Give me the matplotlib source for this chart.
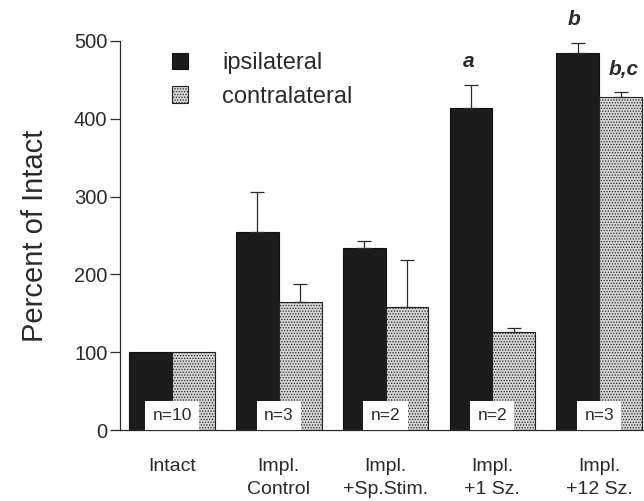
import matplotlib.pyplot as plt
import numpy as np

# values
groups = ['Intact', 'Impl.\nControl', 'Impl.\n+Sp.Stim.', 'Impl.\n+1 Sz.', 'Impl.\n+12 Sz.']
ipsi = [100, 255, 234, 414, 485]
ipsi_err = [0, 51, 9, 29, 13]
contra = [100, 165, 158, 126, 428]
contra_err = [0, 23, 61, 5, 7]
n_labels = ['n=10', 'n=3', 'n=2', 'n=2', 'n=3']

plt.rcParams['font.family'] = ['Liberation Sans', 'DejaVu Sans']
plt.rcParams['hatch.color'] = '#707070'
plt.rcParams['hatch.linewidth'] = 0.6
ink = '#2b2b2b'

fig = plt.figure(figsize=(6.44, 5.01), dpi=100)
ax = fig.add_axes([120 / 644, 1 - 430 / 501, 1 - 120 / 644, (430 - 41) / 501])

x = np.arange(len(groups))
w = 0.4
ax.bar(x - w / 2, ipsi, w, color='#1c1c1c', edgecolor='#111111', linewidth=0.8,
       label='ipsilateral', zorder=2)
ax.bar(x + w / 2, contra, w, color='#d6d6d6', edgecolor='#222222', linewidth=0.8,
       hatch='......', label='contralateral', zorder=2)

# upward-only error bars, none where the error is zero
for off, vals, errs in [(-w / 2, ipsi, ipsi_err), (w / 2, contra, contra_err)]:
    keep = [i for i, e in enumerate(errs) if e > 0]
    ax.errorbar(x[keep] + off, np.array(vals)[keep],
                yerr=[np.zeros(len(keep)), np.array(errs)[keep]], fmt='none',
                ecolor=ink, elinewidth=0.9, capsize=5, capthick=0.9, zorder=3)

# n boxes at the base of each pair
for xi, lab in zip(x, n_labels):
    ax.text(xi, 18.5, lab, ha='center', va='center', fontsize=12.5, color=ink, zorder=4,
            bbox=dict(boxstyle='square,pad=0.42', facecolor='white', edgecolor='none'))

# significance letters
sig = dict(fontsize=15, fontweight='bold', fontstyle='italic', color=ink, ha='center',
           va='center', clip_on=False)
ax.text(x[3] - w / 2 - 0.02, 474, 'a', **sig)
ax.text(x[4] - w / 2 - 0.04, 527, 'b', **sig)
ax.text(x[4] + w / 2 + 0.03, 463, 'b,c', **sig)

ax.set_xlim(-0.487, 4.42)
ax.set_ylim(0, 500)
ax.set_yticks(range(0, 501, 100))
ax.set_xticks(x)
ax.set_xticklabels(groups, fontsize=14, color=ink, linespacing=1.45)
ax.tick_params(axis='x', length=0, pad=20)
ax.tick_params(axis='y', length=7, width=0.9, color=ink, labelsize=14.5,
               labelcolor=ink, pad=2)
ax.set_ylabel('Percent of Intact', fontsize=21, color=ink, labelpad=18)

for s in ['top', 'right']:
    ax.spines[s].set_visible(False)
for s in ['left', 'bottom']:
    ax.spines[s].set_linewidth(0.9)
    ax.spines[s].set_color(ink)

leg = ax.legend(loc='upper left', bbox_to_anchor=(172 / 644, 1 - 52 / 501),
                bbox_transform=fig.transFigure, frameon=False, fontsize=17,
                handlelength=0.68, handleheight=0.68, handletextpad=1.45,
                labelspacing=0.5, borderpad=0, borderaxespad=0)
for t in leg.get_texts():
    t.set_color(ink)

fig.savefig('out.png', dpi=100)
